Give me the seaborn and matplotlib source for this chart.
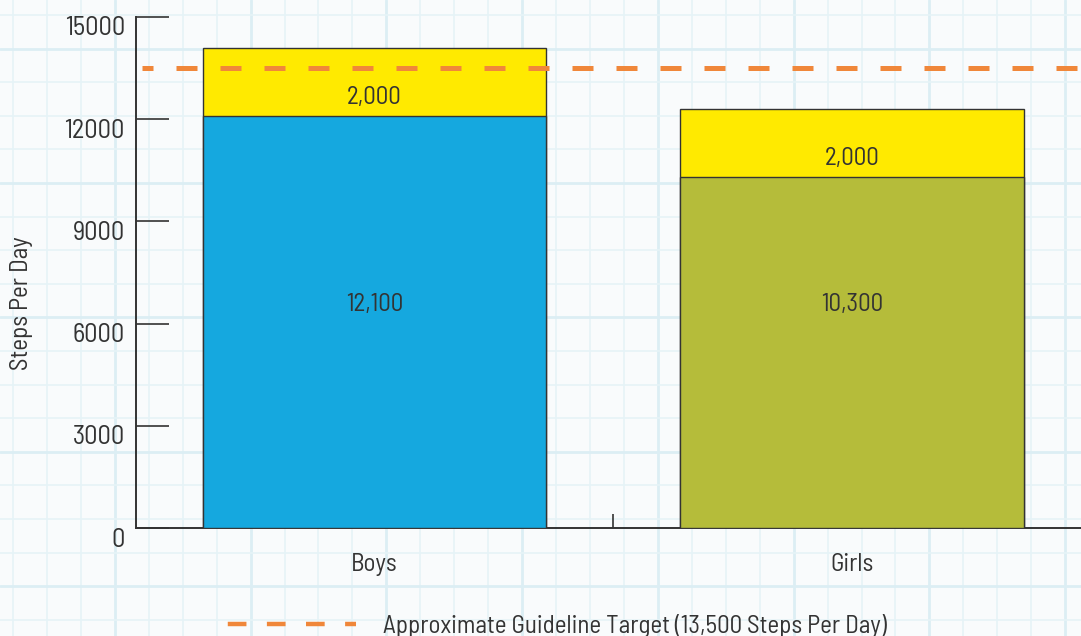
import numpy as np
import pandas as pd
import matplotlib
matplotlib.use("Agg")
import matplotlib.pyplot as plt
import seaborn as sns
from matplotlib import font_manager as fm
from matplotlib.lines import Line2D
from matplotlib.transforms import ScaledTranslation

# ---- data ----
groups = ["Boys", "Girls"]
base_steps = [12100, 10300]
extra_steps = [2000, 2000]
base_labels = ["12,100", "10,300"]
extra_labels = ["2,000", "2,000"]
target = 13500
y_ticks = [0, 3000, 6000, 9000, 12000, 15000]
y_label = "Steps Per Day"
legend_label = "Approximate Guideline Target (13,500 Steps Per Day)"

sns.set_theme(style="white")
names = {f.name for f in fm.fontManager.ttflist}
fam = "DejaVu Sans"
for cand in ["Barlow Semi Condensed", "Roboto Condensed", "Barlow Condensed",
             "Encode Sans Semi Condensed", "Abel", "Liberation Sans Narrow"]:
    if cand in names:
        fam = cand
        break
plt.rcParams["font.family"] = [fam, "DejaVu Sans"]
TXT = "#333333"
FS = 18

fig = plt.figure(figsize=(10.81, 6.36), dpi=100)
fig.patch.set_facecolor("#F9FBFC")

# graph paper background
bg = fig.add_axes([0, 0, 1, 1], zorder=-5)
bg.set_xlim(0, 1081)
bg.set_ylim(636, 0)
bg.axis("off")
for i in range(40):
    x = 13 + 33.94 * i
    if x < 1081:
        thick = (i % 4 == 3)
        bg.axvline(x, color="#DCEEF4" if thick else "#E6F3F7", lw=2.0 if thick else 1.2)
for i in range(25):
    y = 15 + 33.6 * i
    if y < 636:
        thick = (i % 4 == 1)
        bg.axhline(y, color="#DCEEF4" if thick else "#E6F3F7", lw=2.0 if thick else 1.2)

ax = fig.add_axes([0.1258, 0.1698, 0.883, 0.8035])
ax.patch.set_alpha(0)

df = pd.DataFrame({"group": groups, "base": base_steps,
                   "total": np.array(base_steps) + np.array(extra_steps)})

sns.barplot(data=df, x="group", y="total", ax=ax, width=0.72, saturation=1,
            color="#FFEA00", edgecolor="#333333", linewidth=1.0, zorder=2)
sns.barplot(data=df, x="group", y="base", hue="group", ax=ax, width=0.72, saturation=1,
            palette=["#15A8DF", "#B5BC3A"], edgecolor="#333333", linewidth=1.0,
            legend=False, zorder=3)

for i in range(len(groups)):
    ax.text(i, 6550, base_labels[i], ha="center", va="center", fontsize=FS, color=TXT, zorder=5)
    ax.text(i, base_steps[i] + 540, extra_labels[i], ha="center", va="center",
            fontsize=FS, color=TXT, zorder=5)

ax.axhline(target, xmin=0.006, xmax=1.0, color="#F0873A", lw=3.6,
           linestyle=(2.0, (4.2, 4.6)), zorder=4)

ax.set_xlim(-0.5, 1.5)
ax.set_ylim(0, 15000)
ax.set_yticks(y_ticks)
ax.set_yticklabels([str(v) for v in y_ticks])
ax.set_xticks([0.5])
ax.set_xticklabels([""])
ax.tick_params(axis="x", bottom=True, direction="in", length=10, width=1.2, color="#333333")
ax.tick_params(axis="y", left=True, direction="in", length=24, width=1.2, color="#333333",
               labelsize=FS + 1, labelcolor=TXT, pad=8)
off = ScaledTranslation(0, -0.09, fig.dpi_scale_trans)
for lab in ax.get_yticklabels():
    lab.set_transform(lab.get_transform() + off)

for i, g in enumerate(groups):
    ax.text(i, -0.072, g, transform=ax.get_xaxis_transform(), ha="center", va="center",
            fontsize=FS, color=TXT)

ax.set_xlabel("")
ax.set_ylabel(y_label, fontsize=FS, color=TXT)
ax.yaxis.set_label_coords(-0.108, 0.44)
for s in ["top", "right"]:
    ax.spines[s].set_visible(False)
for s in ["left", "bottom"]:
    ax.spines[s].set_color("#333333")
    ax.spines[s].set_linewidth(1.4)

handle = Line2D([], [], color="#F0873A", lw=3.2, linestyle=(-2.2, (4.2, 4.6)))
fig.legend([handle], [legend_label], loc="center", bbox_to_anchor=(0.511, 0.016),
           frameon=False, fontsize=FS, handlelength=5.5, handletextpad=1.1,
           labelcolor=TXT)

fig.savefig("out.png", dpi=100)
